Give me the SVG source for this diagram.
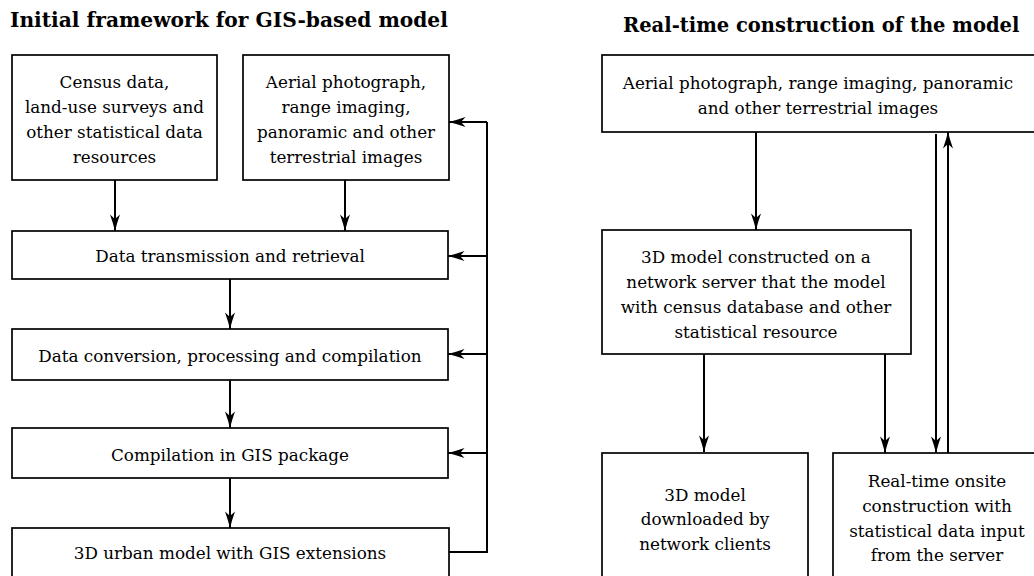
<svg xmlns="http://www.w3.org/2000/svg" width="1034" height="576" viewBox="0 0 1034 576">
<style>
.box{fill:#fff;stroke:#000;stroke-width:1.7}
.t{font-family:'DejaVu Serif','Liberation Serif',serif;font-size:16.8px;fill:#000;text-anchor:middle}
.title{font-family:'DejaVu Serif','Liberation Serif',serif;font-size:20.2px;font-weight:bold;fill:#000}
.ln{fill:none;stroke:#000;stroke-width:2}
</style>
<defs>
<marker id="ah" markerWidth="17" markerHeight="10" refX="17" refY="5" orient="auto" markerUnits="userSpaceOnUse" viewBox="0 0 17 10">
<path d="M17,5 L9,2.8 L0.5,0 L5,5 L0.5,10 L9,7.2 Z" fill="#000"/>
</marker>
</defs>
<rect width="1034" height="576" fill="#fff"/>
<text class="title" x="10" y="27">Initial framework for GIS-based model</text>
<text class="title" x="623" y="32" style="font-size:19.5px">Real-time construction of the model</text>

<g id="census">
<rect class="box" x="12" y="55" width="205" height="125"/>
<text class="t" x="114.5" y="88">Census data,</text>
<text class="t" x="114.5" y="113">land-use surveys and</text>
<text class="t" x="114.5" y="138">other statistical data</text>
<text class="t" x="114.5" y="163">resources</text>
</g>
<g id="aerial-left">
<rect class="box" x="243" y="55" width="206" height="125"/>
<text class="t" x="346" y="88">Aerial photograph,</text>
<text class="t" x="346" y="113">range imaging,</text>
<text class="t" x="346" y="138">panoramic and other</text>
<text class="t" x="346" y="163">terrestrial images</text>
</g>
<g id="transmission">
<rect class="box" x="12" y="231" width="436" height="48"/>
<text class="t" x="230" y="262">Data transmission and retrieval</text>
</g>
<g id="conversion">
<rect class="box" x="12" y="329" width="436" height="51"/>
<text class="t" x="230" y="362">Data conversion, processing and compilation</text>
</g>
<g id="compilation">
<rect class="box" x="12" y="428" width="436" height="50"/>
<text class="t" x="230" y="461">Compilation in GIS package</text>
</g>
<g id="urban-model">
<rect class="box" x="12" y="528" width="437" height="70"/>
<text class="t" x="230" y="559">3D urban model with GIS extensions</text>
</g>

<g id="aerial-right">
<rect class="box" x="602" y="55" width="450" height="77"/>
<text class="t" x="818" y="89">Aerial photograph, range imaging, panoramic</text>
<text class="t" x="818" y="114">and other terrestrial images</text>
</g>
<g id="server-model">
<rect class="box" x="602" y="230" width="309" height="124"/>
<text class="t" x="756" y="263">3D model constructed on a</text>
<text class="t" x="756" y="288">network server that the model</text>
<text class="t" x="756" y="313">with census database and other</text>
<text class="t" x="756" y="338">statistical resource</text>
</g>
<g id="downloaded">
<rect class="box" x="602" y="453" width="206" height="150"/>
<text class="t" x="705" y="501">3D model</text>
<text class="t" x="705" y="525">downloaded by</text>
<text class="t" x="705" y="550">network clients</text>
</g>
<g id="onsite">
<rect class="box" x="833" y="453" width="220" height="150"/>
<text class="t" x="937" y="487">Real-time onsite</text>
<text class="t" x="937" y="512">construction with</text>
<text class="t" x="937" y="537">statistical data input</text>
<text class="t" x="937" y="561">from the server</text>
</g>

<g id="connectors">
<line class="ln" x1="115" y1="180" x2="115" y2="231" marker-end="url(#ah)"/>
<line class="ln" x1="345" y1="180" x2="345" y2="231" marker-end="url(#ah)"/>
<line class="ln" x1="230" y1="279" x2="230" y2="329" marker-end="url(#ah)"/>
<line class="ln" x1="230" y1="380" x2="230" y2="428" marker-end="url(#ah)"/>
<line class="ln" x1="230" y1="478" x2="230" y2="528" marker-end="url(#ah)"/>
<polyline class="ln" points="449,552 487,552 487,122"/>
<line class="ln" x1="487" y1="122" x2="449" y2="122" marker-end="url(#ah)"/>
<line class="ln" x1="487" y1="256" x2="448" y2="256" marker-end="url(#ah)"/>
<line class="ln" x1="487" y1="354" x2="448" y2="354" marker-end="url(#ah)"/>
<line class="ln" x1="487" y1="453" x2="448" y2="453" marker-end="url(#ah)"/>
<line class="ln" x1="756" y1="132" x2="756" y2="230" marker-end="url(#ah)"/>
<line class="ln" x1="704" y1="354" x2="704" y2="452" marker-end="url(#ah)"/>
<line class="ln" x1="885" y1="354" x2="885" y2="453" marker-end="url(#ah)"/>
<line class="ln" x1="936" y1="134" x2="936" y2="453" marker-end="url(#ah)"/>
<line class="ln" x1="948" y1="453" x2="948" y2="132" marker-end="url(#ah)"/>
</g>
</svg>
